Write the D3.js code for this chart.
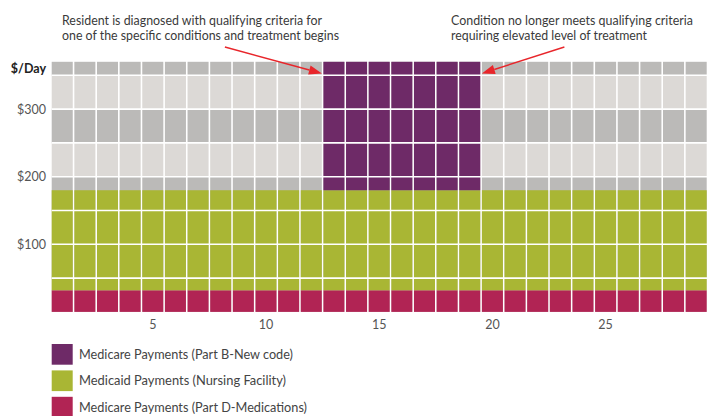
<!DOCTYPE html>
<html><head><meta charset="utf-8">
<script src="https://cdn.jsdelivr.net/npm/d3@7"></script>
<style>
body{margin:0;background:#fff}
svg{display:block}
text{font-family:Lato,"Open Sans",sans-serif}
</style></head>
<body><svg id="c" width="709" height="416"></svg>
<script>
// ---- data ----
const days = [1,2,3,4,5,6,7,8,9,10,11,12,13,14,15,16,17,18,19,20,21,22,23,24,25,26,27,28,29];
const partD = [32,32,32,32,32,32,32,32,32,32,32,32,32,32,32,32,32,32,32,32,32,32,32,32,32,32,32,32,32];
const medicaid = [148,148,148,148,148,148,148,148,148,148,148,148,148,148,148,148,148,148,148,148,148,148,148,148,148,148,148,148,148];
const partB = [0,0,0,0,0,0,0,0,0,0,0,0,190,190,190,190,190,190,190,0,0,0,0,0,0,0,0,0,0];
const bandEdges = [0,50,100,150,200,250,300,350,370];
const xTicks = [5,10,15,20,25];
const yTicks = [100,200,300];
const seriesNames = ["Medicare Payments (Part D-Medications)","Medicaid Payments (Nursing Facility)","Medicare Payments (Part B-New code)"];
const seriesColors = ["#b12454","#a9b634","#6e2a67"];
const legendOrder = [2,1,0];
const annotations = [
  {lines:["Resident is diagnosed with qualifying criteria for","one of the specific conditions and treatment begins"], widths:[260,277], day:13, side:"left"},
  {lines:["Condition no longer meets qualifying criteria","requiring elevated level of treatment"], widths:[242,196], day:20, side:"right"}
];

// ---- scales ----
const svg = d3.select("#c");
const x = d3.scaleBand().domain(days).range([51.7, 708.3]).padding(0);
const gap = 1.6;
const cw = x.step() - gap;
const y = d3.scaleLinear().domain([0, 370]).range([311.9, 61.8]);

// background gray bands
const bands = d3.pairs(bandEdges).map((p,i)=>({y0:p[0],y1:p[1],dark:i%2===1}));
const bg = svg.append("g");
days.forEach(d=>{
  bg.selectAll(null).data(bands).join("rect")
    .attr("x", x(d)).attr("width", cw)
    .attr("y", b=>y(b.y1)).attr("height", b=>y(b.y0)-y(b.y1))
    .attr("fill", b=>b.dark?"#bbbab8":"#dcd9d6");
});

// stacked series
const stackData = days.map((d,i)=>({day:d, s0:partD[i], s1:medicaid[i], s2:partB[i]}));
const stack = d3.stack().keys(["s0","s1","s2"])(stackData);
svg.append("g").selectAll("g").data(stack).join("g")
  .attr("fill", (s,i)=>seriesColors[i])
  .selectAll("rect").data(s=>s.filter(v=>v[1]>v[0])).join("rect")
  .attr("x", v=>x(v.data.day)).attr("width", cw)
  .attr("y", v=>y(v[1])).attr("height", v=>y(v[0])-y(v[1]));

// white horizontal separators every $50
svg.append("g").selectAll("line").data(bandEdges.slice(1,-1)).join("line")
  .attr("x1", x.range()[0]).attr("x2", x.range()[1])
  .attr("y1", d=>y(d)).attr("y2", d=>y(d))
  .attr("stroke","#fff").attr("stroke-width",1.6);

// x axis labels
const xa = svg.append("g").attr("transform",`translate(${-gap/2},${y(0)})`)
  .call(d3.axisBottom(x).tickValues(xTicks).tickSize(0).tickPadding(8));
xa.select(".domain").remove();
xa.selectAll("text").attr("font-size",12.5).attr("fill","#555").style("font-family","Lato,'Open Sans',sans-serif");

// y axis labels
const ya = svg.append("g").attr("transform",`translate(${x.range()[0]},0)`)
  .call(d3.axisLeft(y).tickValues(yTicks).tickFormat(d=>"$"+d).tickSize(0).tickPadding(5.7));
ya.select(".domain").remove();
ya.selectAll("text").attr("font-size",12.5).attr("fill","#555").style("font-family","Lato,'Open Sans',sans-serif");
svg.append("text").attr("x", x.range()[0]-5.7).attr("y", y(360)).attr("dy","0.35em")
  .attr("text-anchor","end").attr("font-size",12.5).attr("font-weight","bold").attr("fill","#222").text("$/Day");

// annotations
const ann = svg.append("g");
annotations.forEach(a=>{
  const tipX = a.side==="left" ? x(a.day)-1.5 : x(a.day);
  const tipY = y(352)-0.5;
  const sx = a.side==="left" ? tipX-97 : tipX+82.5;
  const sy = 47;
  const tx = a.side==="left" ? 62 : 451;
  a.lines.forEach((t,i)=>{
    ann.append("text").attr("x",tx).attr("y",25+i*15).attr("font-size",13)
      .attr("fill","#3a3a3a").attr("textLength",a.widths[i]).attr("lengthAdjust","spacingAndGlyphs").text(t);
  });
  const ang = Math.atan2(tipY-sy, tipX-sx);
  const L = 13, W = 4.6;
  const bx = tipX - L*Math.cos(ang), by = tipY - L*Math.sin(ang);
  ann.append("line").attr("x1",sx).attr("y1",sy).attr("x2",bx).attr("y2",by)
    .attr("stroke","#e8262b").attr("stroke-width",1.4);
  const px = -Math.sin(ang), py = Math.cos(ang);
  ann.append("polygon").attr("points",[[tipX,tipY],[bx+px*W,by+py*W],[bx-px*W,by-py*W]].map(p=>p.join(",")).join(" "))
    .attr("fill","#e8262b");
});

// legend
const lg = svg.append("g");
const lgWidths = [214, 207, 228];
legendOrder.forEach((si,i)=>{
  const top = 344 + i*26.4;
  lg.append("rect").attr("x",51.7).attr("y",top).attr("width",21).attr("height",20.7).attr("fill",seriesColors[si]);
  lg.append("text").attr("x",79).attr("y",top+10.5).attr("dy","0.35em").attr("font-size",12.5)
    .attr("fill","#444").attr("textLength",lgWidths[i]).attr("lengthAdjust","spacingAndGlyphs").text(seriesNames[si]);
});
</script>
</body></html>
